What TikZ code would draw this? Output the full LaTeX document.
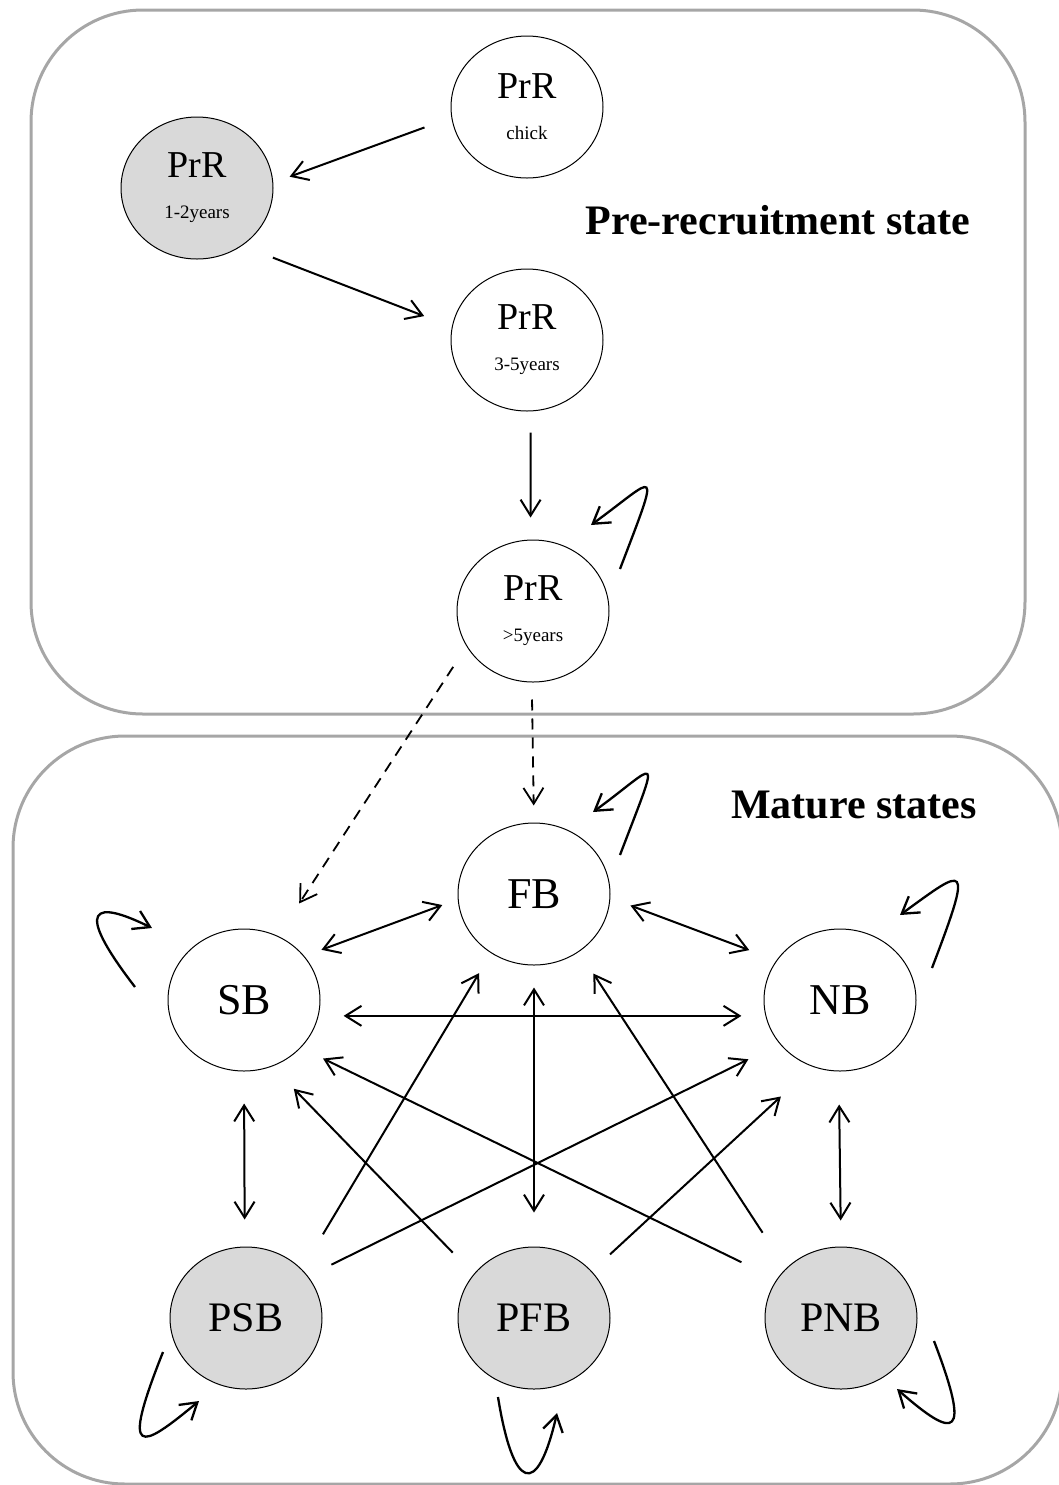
\documentclass[tikz,border=0pt]{standalone}
\usepackage{fontspec}
\setmainfont{Liberation Serif}
\usetikzlibrary{shapes.geometric}
\usetikzlibrary{arrows.meta}
\tikzset{
every picture/.style={x=0.5pt, y=-0.5pt, line width=1pt,
                      >={Straight Barb[length=8pt,width=10pt]}},
%%%%%%%%%%  Node styles
stage/.style={ellipse,draw,line width=0.5pt, inner sep=0pt, align=center,
              minimum width=76pt, minimum height=71pt,
              font=\fontsize{19}{20.5}\selectfont},
juvenile/.style={stage, fill=black!15},
adult/.style={stage, font=\fontsize{22}{26}\selectfont},
skipper/.style={adult, fill=black!15, font=\fontsize{21}{25}\selectfont},
heading/.style={anchor=base, font=\fontsize{21}{25}\selectfont\bfseries},
%%%% different line styles:
panel/.style={draw=black!35, line width=1.5pt, rounded corners=56pt},
recruit/.style={line width=0.9pt, dash pattern=on 5.5pt off 4pt},
stay/.style={line width=1.15pt}
}
\newcommand{\prr}[1]{PrR\\{\fontsize{9.5}{11}\selectfont #1}}

\begin{document}
\begin{tikzpicture}
\useasboundingbox (0,0) rectangle (1059,1485);
\draw[panel] (31,10) rectangle (1025,714);
\draw[panel] (13,736) rectangle (1062,1484);
\node[heading] (pre) at (778,234) {Pre-recruitment state};
\node[heading] (mature) at (854,818) {Mature states};
%%%% pre-recruitment
\node[stage] (chick) at (527,107) {\prr{chick}};
\node[juvenile] (pr12) at (197,188) {\prr{1-2years}};
\node[stage] (pr35) at (527,340) {\prr{3-5years}};
\node[stage] (pr5) at (533,611) {\prr{>5years}};
%%%% mature
\node[adult] (fb) at (534,894) {FB};
\node[adult] (sb) at (244,1000) {SB};
\node[adult] (nb) at (840,1000) {NB};
\node[skipper] (psb) at (246,1318) {PSB};
\node[skipper] (pfb) at (534,1318) {PFB};
\node[skipper] (pnb) at (841,1318) {PNB};
%%%% transitions
\draw[->, shorten <=14.3pt, shorten >=8.7pt] (chick.188) -- (pr12.4);
\draw[->, shorten <=16.5pt, shorten >=14.8pt] (pr12.308) -- (pr35.170);
\draw[->, shorten <=10.6pt, shorten >=11pt] (pr35.273) -- (pr5.92);
\draw[->, recruit, shorten <=12.2pt, shorten >=19.4pt] (pr5.208) -- (sb.62);
\draw[->, recruit, shorten <=8.5pt, shorten >=8.5pt] (pr5.269) -- (fb.90);
\draw[<->, shorten <=9.1pt, shorten >=8.2pt] (sb.36) -- (fb.184);
\draw[<->, shorten <=10.7pt, shorten >=14.5pt] (fb.357) -- (nb.148);
\draw[<->, shorten <=12.5pt, shorten >=12pt] (sb.348) -- (nb.192);
\draw[<->, shorten <=16pt, shorten >=13.5pt] (sb.270) -- (psb.91);
\draw[<->, shorten <=11pt, shorten >=17pt] (fb.270) -- (pfb.90);
\draw[<->, shorten <=16.5pt, shorten >=13pt] (nb.269) -- (pnb.90);
\draw[->, shorten <=20.4pt, shorten >=11.6pt] (psb.41) -- (fb.234);
\draw[->, shorten <=13pt, shorten >=17.4pt] (psb.34) -- (nb.216);
\draw[->, shorten <=15pt, shorten >=15.5pt] (pfb.144) -- (sb.293);
\draw[->, shorten <=12.4pt, shorten >=21.8pt] (pfb.39) -- (nb.248);
\draw[->, shorten <=19.6pt, shorten >=12.3pt] (pnb.149) -- (sb.320);
\draw[->, shorten <=21.3pt, shorten >=13pt] (pnb.138) -- (fb.308);
%%%% staying in the same state
\draw[->, stay] ([shift={(87,-42)}]pr5.center) .. controls +(42,-110) and +(66,-48) .. ([shift={(58,-86)}]pr5.center);
\draw[->, stay] ([shift={(86,-39)}]fb.center) .. controls +(42,-110) and +(66,-48) .. ([shift={(59,-82)}]fb.center);
\draw[->, stay] ([shift={(92,-32)}]nb.center) .. controls +(42,-110) and +(66,-48) .. ([shift={(60,-85)}]nb.center);
\draw[->, stay] ([shift={(-109,-13)}]sb.center) .. controls +(-63,-82) and +(-57,-28) .. ([shift={(-92,-72)}]sb.center);
\draw[->, stay] ([shift={(-83,34)}]psb.center) .. controls +(-43,108) and +(-59,49) .. ([shift={(-47,83)}]psb.center);
\draw[->, stay] ([shift={(-36,79)}]pfb.center) .. controls +(15,93) and +(-20,87) .. ([shift={(23,95)}]pfb.center);
\draw[->, stay] ([shift={(93,23)}]pnb.center) .. controls +(38,99) and +(58,51) .. ([shift={(56,71)}]pnb.center);
\end{tikzpicture}
\end{document}
